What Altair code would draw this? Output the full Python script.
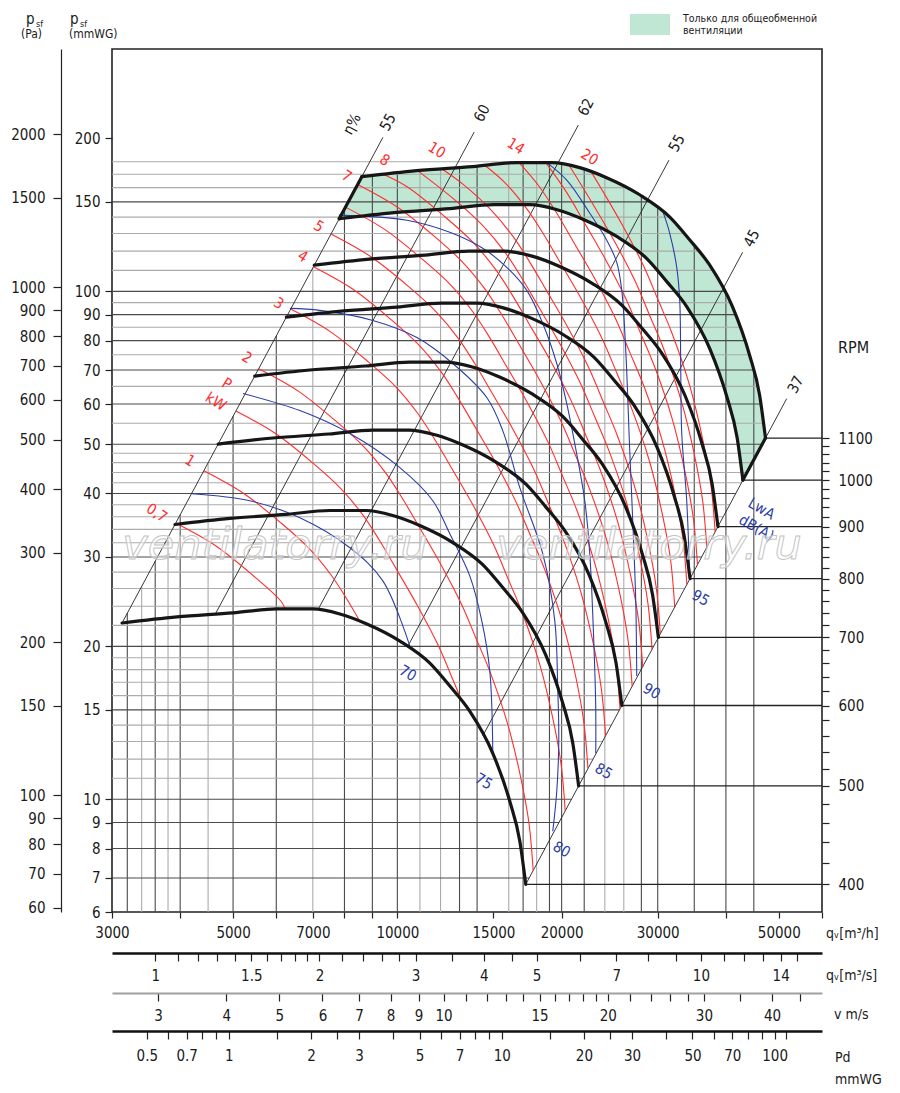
import json
import altair as alt
import pandas as pd

FONT = "Liberation Sans Narrow, DejaVu Sans Condensed, Roboto Condensed, Roboto, sans-serif"

# ---------------- fan curves: q [m3/h], p [mmWG] ----------------
RPM = [400, 500, 600, 700, 800, 900, 1000, 1100]
FAN_Q = {
    400: [3130, 3946, 4998, 6016, 7002, 7847, 8794, 10110, 11470, 12480, 13570, 14960, 16070, 16770, 17190],
    500: [3913, 4933, 6248, 7520, 8753, 9809, 10993, 12638, 14338, 15600, 16963, 18700, 20088, 20963, 21488],
    600: [4695, 5919, 7497, 9024, 10503, 11771, 13191, 15165, 17205, 18720, 20355, 22440, 24105, 25155, 25785],
    700: [5478, 6906, 8747, 10528, 12254, 13732, 15390, 17693, 20073, 21840, 23748, 26180, 28123, 29348, 30083],
    800: [6260, 7892, 9996, 12032, 14004, 15694, 17588, 20220, 22940, 24960, 27140, 29920, 32140, 33540, 34380],
    900: [7043, 8879, 11246, 13536, 15755, 17656, 19787, 22748, 25808, 28080, 30533, 33660, 36158, 37733, 38678],
    1000: [7825, 9865, 12495, 15040, 17505, 19618, 21985, 25275, 28675, 31200, 33925, 37400, 40175, 41925, 42975],
    1100: [8608, 10852, 13745, 16544, 19256, 21579, 24184, 27803, 31543, 34320, 37318, 41140, 44193, 46118, 47273],
}
FAN_P = {
    400: [22.24, 22.86, 23.28, 23.70, 23.70, 23.17, 22.14, 20.49, 18.54, 16.71, 14.92, 12.32, 9.91, 8.26, 6.80],
    500: [34.75, 35.72, 36.38, 37.03, 37.03, 36.20, 34.59, 32.02, 28.97, 26.11, 23.31, 19.25, 15.48, 12.91, 10.63],
    600: [50.04, 51.44, 52.38, 53.33, 53.33, 52.13, 49.82, 46.10, 41.72, 37.60, 33.57, 27.72, 22.30, 18.59, 15.30],
    700: [68.11, 70.01, 71.30, 72.58, 72.58, 70.96, 67.80, 62.75, 56.78, 51.17, 45.69, 37.73, 30.35, 25.30, 20.83],
    800: [88.96, 91.44, 93.12, 94.80, 94.80, 92.68, 88.56, 81.96, 74.16, 66.84, 59.68, 49.28, 39.64, 33.04, 27.20],
    900: [112.59, 115.73, 117.86, 119.98, 119.98, 117.30, 112.08, 103.73, 93.86, 84.59, 75.53, 62.37, 50.17, 41.82, 34.43],
    1000: [139.0, 142.9, 145.5, 148.1, 148.1, 144.8, 138.4, 128.1, 115.9, 104.4, 93.25, 77.0, 61.94, 51.63, 42.5],
    1100: [168.19, 172.88, 176.06, 179.23, 179.23, 175.22, 167.43, 154.96, 140.21, 126.37, 112.83, 93.17, 74.94, 62.47, 51.43],
}

# ---------------- shaft power lines P [kW] ----------------
RED_Q = {
    "0.7": [3925, 4638, 5440, 6122, 6223],
    "1": [4420, 5223, 6126, 6897, 7561, 8100, 8538],
    "1.5": [5060, 5979, 7013, 7894, 8657, 9272, 9958, 10920, 11910, 12650, 13125],
    "2": [5570, 6584, 7718, 8686, 9526, 10206, 10960, 12021, 13109, 13923, 14803, 15949, 16865, 17436, 17737],
    "3": [6376, 7534, 8834, 9948, 10905, 11681, 12545, 13760, 15006, 15937, 16948, 18257, 19306, 19958, 20304],
    "4": [7016, 8291, 9723, 10947, 12002, 12857, 13810, 15144, 16512, 17543, 18655, 20097, 21253, 21965, 22350],
    "5": [7559, 8931, 10477, 11791, 12931, 13852, 14876, 16313, 17790, 18897, 20093, 21646, 22892, 23659, 24075],
    "6": [8033, 9492, 11132, 12533, 13740, 14719, 15808, 17334, 18905, 20083, 21355, 23007, 24330, 25147, 25587],
    "7": [8457, 9993, 11721, 13192, 14465, 15496, 16641, 18249, 19898, 21139, 22479, 24217, 25611, 26470, 26933],
    "8": [9422, 10451, 12252, 13792, 15124, 16199, 17397, 19084, 20807, 22098, 23498, 25315, 26773, 27676, 28154],
    "9": [10890, 12745, 14341, 15728, 16851, 18096, 19843, 21640, 22989, 24444, 26334, 27843, 28782, 29287],
    "10": [12056, 13200, 14857, 16289, 17449, 18741, 20557, 22416, 23807, 25315, 27274, 28841, 29814, 30328],
    "12": [14478, 15787, 17312, 18547, 19915, 21847, 23821, 25301, 26903, 28982, 30650, 31685, 32231],
    "14": [16720, 18223, 19523, 20963, 22995, 25076, 26631, 28317, 30508, 32262, 33350, 33928],
    "16": [18708, 20412, 21924, 24040, 26216, 27847, 29612, 31902, 33729, 34868, 35478],
    "18": [20669, 22797, 25007, 27266, 28959, 30794, 33175, 35084, 36268, 36897],
    "20": [22654, 23614, 25900, 28241, 30001, 31899, 34366, 36337, 37563, 38219],
}
RED_P = {
    "0.7": [34.98, 31.59, 27.58, 24.54, 23.75],
    "1": [44.35, 40.05, 34.97, 31.15, 27.64, 24.69, 22.41],
    "1.5": [58.12, 52.49, 45.84, 40.81, 36.23, 32.35, 28.39, 23.91, 19.99, 17.17, 15.61],
    "2": [70.42, 63.63, 55.51, 49.41, 43.86, 39.19, 34.39, 28.97, 24.22, 20.80, 17.76, 14.00, 10.92, 8.93, 7.24],
    "3": [92.28, 83.33, 72.74, 64.81, 57.48, 51.34, 45.06, 37.96, 31.73, 27.25, 23.27, 18.35, 14.30, 11.70, 9.49],
    "4": [111.75, 100.93, 88.10, 78.48, 69.64, 62.20, 54.60, 45.98, 38.42, 33.02, 28.20, 22.23, 17.33, 14.17, 11.50],
    "5": [129.70, 117.11, 102.29, 91.05, 80.82, 72.19, 63.35, 53.35, 44.60, 38.31, 32.71, 25.79, 20.11, 16.44, 13.34],
    "6": [146.49, 132.28, 115.48, 102.86, 91.26, 81.53, 71.54, 60.23, 50.37, 43.27, 36.95, 29.14, 22.72, 18.57, 15.07],
    "7": [162.37, 146.62, 128.04, 113.96, 101.15, 90.35, 79.28, 66.76, 55.80, 47.94, 40.94, 32.28, 25.17, 20.58, 16.69],
    "8": [170.0, 160.34, 139.90, 124.56, 110.57, 98.75, 86.65, 73.01, 61.01, 52.39, 44.74, 35.28, 27.51, 22.50, 18.24],
    "9": [172.9, 151.38, 134.68, 119.58, 106.85, 93.75, 78.93, 65.99, 56.70, 48.41, 38.18, 29.75, 24.33, 19.74],
    "10": [174.3, 162.39, 144.54, 128.26, 114.56, 100.55, 84.71, 70.81, 60.81, 51.92, 40.95, 31.92, 26.11, 21.17],
    "12": [176.9, 163.21, 144.87, 129.44, 113.54, 95.68, 79.96, 68.68, 58.64, 46.24, 36.05, 29.49, 23.91],
    "14": [179.2, 160.52, 143.41, 125.81, 106.00, 88.61, 76.09, 64.97, 51.23, 39.94, 32.67, 26.49],
    "16": [179.2, 156.79, 137.61, 115.85, 96.85, 83.19, 71.05, 56.03, 43.66, 35.71, 28.97],
    "18": [176.7, 148.78, 125.36, 104.77, 89.97, 76.83, 60.59, 47.24, 38.63, 31.33],
    "20": [171.9, 159.65, 134.47, 112.40, 96.56, 82.44, 65.01, 50.67, 41.44, 33.61],
}
RED_LABELS = ["0,7", "1", "P", "kW", "2", "3", "4", "5", "7", "8", "10", "14", "20"]
RED_LABEL_Q = [3626, 4169, 4871, 4651, 5302, 6067, 6713, 7181, 8081, 9487, 11812, 16485, 22521]
RED_LABEL_P = [36.65, 46.42, 65.84, 60.68, 74.09, 94.70, 117.2, 134.3, 168.6, 181.3, 189.7, 193.2, 183.8]

# ---------------- sound power lines LwA [dB(A)] ----------------
BLUE_Q = {
    "70": [4204, 5367, 6629, 8187, 9406, 10542],
    "75": [5213, 6629, 8187, 10107, 11614, 12477, 13574, 14280, 14771, 14959],
    "80": [6355, 7212, 9018, 10859, 12637, 14585, 15600, 16765, 18472, 19432, 19676, 19762, 19594, 19267],
    "85": [7814, 10410, 12477, 14339, 15866, 17267, 18472, 19594, 20437, 21141, 22051, 22523, 22905, 23096, 23096],
    "90": [18785, 20437, 22523, 24195, 25237, 25777, 26215, 26659, 26999, 27343, 27457],
    "95": [30642, 31561, 32504, 32920, 33058, 33199, 33904, 34336],
}
BLUE_P = {
    "70": [39.96, 38.71, 35.83, 31.27, 26.92, 20.03],
    "75": [62.93, 58.25, 52.48, 44.97, 38.71, 33.32, 27.54, 22.45, 17.89, 12.32],
    "80": [92.57, 91.73, 87.66, 81.15, 72.11, 61.80, 53.19, 41.07, 30.42, 22.45, 16.56, 13.01, 10.37, 8.65],
    "85": [141.25, 138.04, 130.68, 121.56, 111.51, 100.46, 86.47, 72.11, 60.14, 50.15, 38.71, 30.42, 20.49, 15.12, 12.32],
    "90": [179.2, 165.56, 142.52, 126.06, 114.08, 100.46, 76.52, 48.57, 35.35, 24.58, 17.48],
    "95": [143.83, 130.12, 111.51, 95.99, 70.80, 52.48, 38.71, 27.29],
}
BLUE_LABELS = ["70", "75", "80", "85", "90", "95", "LwA", "dB(A)"]
BLUE_LABEL_Q = [10453, 14404, 20012, 23890, 29250, 35970, 46509, 45540]
BLUE_LABEL_P = [17.72, 10.85, 7.97, 11.36, 16.33, 24.91, 37.33, 34.24]

# ---------------- efficiency lines eta [%] ----------------
EFF_NAME = ["55a", "60", "62", "55b", "45", "37"]
EFF_Q0 = [3130, 4633, 7152, 10450, 14350, 17190]
EFF_P0 = [22.24, 23.1, 23.6, 20.0, 13.35, 6.80]
EFF_Q1 = [9410, 13830, 21460, 31460, 42930, 51700]
EFF_P1 = [201.0, 205.9, 212.5, 181.3, 119.4, 61.5]
EFF_LABELS = ["η%", "55", "60", "62", "55", "45", "37"]
EFF_LABEL_Q = [8257, 9609, 14280, 22144, 32504, 44598, 53673]
EFF_LABEL_P = [213.5, 215.4, 224.4, 230.6, 195.8, 127.2, 65.54]

# ---------------- grid ----------------
HGRID_P = [7, 8, 9, 10, 11, 12, 13, 14, 15, 16, 17, 18, 19, 20, 22, 24, 26, 28, 30, 32, 34, 36, 38, 40,
           42, 44, 46, 48, 50, 55, 60, 65, 70, 75, 80, 85, 90, 95, 100, 110, 120, 130, 140, 150, 160, 170, 180]
HGRID_QEND = [17441, 18645, 19776, 20846, 21863, 22835, 23768, 24665, 25531, 26368, 27180, 27967, 28734,
              29480, 30919, 32294, 33613, 34882, 36106, 37290, 38438, 39552, 40636, 41692, 42721, 43726,
              44709, 45671, 46613, 46870, 46350, 45700, 44900, 44190, 43270, 42410, 41620, 40750, 39690,
              37800, 35660, 33540, 31600, 28960, 26240, 23270, 19500]
HGRID_MAJOR = [7, 8, 9, 10, 15, 20, 30, 40, 50, 60, 70, 80, 90, 100, 150]
VGRID_Q = [3200, 3400, 3600, 3800, 4000, 4500, 5000, 6000, 7000, 8000, 9000, 10000, 11000, 12000, 13000,
           14000, 16000, 17000, 18000, 19000, 20000, 22000, 24000, 26000, 28000, 30000, 35000, 40000, 45000]
VGRID_PTOP = [23.25, 26.24, 29.42, 32.78, 36.32, 45.97, 56.75, 81.72, 111.2, 145.3, 169.1, 171.2, 173.1,
              174.2, 175.3, 176.4, 178.6, 179.2, 179.2, 179.2, 177.9, 173.9, 168.0, 160.8, 154.1, 145.9,
              123.1, 98.5, 69.4]
VGRID_LIGHT = [3400, 3800, 4500, 7000, 11000, 12000, 16000, 18000, 24000, 26000]

# ---------------- axes ----------------
XTICKS = [3000, 4000, 5000, 6000, 7000, 8000, 9000, 10000, 15000, 20000, 30000, 40000, 50000, 60000]
XLABELS = [3000, 5000, 7000, 10000, 15000, 20000, 30000, 50000]
YTICKS_MM = [6, 7, 8, 9, 10, 15, 20, 30, 40, 50, 60, 70, 80, 90, 100, 150, 200]
YTICKS_PA = [60, 70, 80, 90, 100, 150, 200, 300, 400, 500, 600, 700, 800, 900, 1000, 1500, 2000]
RPM_TICKS = list(range(400, 1101, 20))
QS_TICKS = [1, 1.1, 1.2, 1.3, 1.4, 1.5, 1.6, 1.7, 1.8, 1.9, 2, 2.2, 2.4, 2.6, 2.8, 3, 3.5, 4, 4.5, 5,
            6, 7, 8, 9, 10, 11, 12, 13, 14, 15]
QS_LABELS = [1, 1.5, 2, 3, 4, 5, 7, 10, 14]
V_TICKS = [3, 4, 5, 6, 7, 8, 9, 10, 11, 12, 13, 14, 15, 16, 17, 18, 19, 20, 22, 24, 26, 28, 30, 35, 40, 45]
V_LABELS = [3, 4, 5, 6, 7, 8, 9, 10, 15, 20, 30, 40]
PD_TICKS = [0.5, 0.6, 0.7, 0.8, 0.9, 1, 1.5, 2, 2.5, 3, 4, 5, 6, 7, 8, 9, 10, 15, 20, 25, 30, 40, 50,
            60, 70, 80, 90, 100, 110]
PD_LABELS = [0.5, 0.7, 1, 2, 3, 5, 7, 10, 20, 30, 50, 70, 100]

GREEN = "#bfe7d3"
RED = "#ff2d2d"
BLUE = "#2b3ea6"


def lines_df(qd, pdct, prefix):
    rows = []
    for k in qd:
        for i, (q, p) in enumerate(zip(qd[k], pdct[k])):
            rows.append({"s": f"{prefix}{k}", "i": i, "q": q, "p": p})
    return pd.DataFrame(rows)


fan_df = lines_df(FAN_Q, FAN_P, "n")
red_df = lines_df(RED_Q, RED_P, "P")
blue_df = lines_df(BLUE_Q, BLUE_P, "L")

eff_rows = []
for n, q0, p0, q1, p1 in zip(EFF_NAME, EFF_Q0, EFF_P0, EFF_Q1, EFF_P1):
    eff_rows.append({"s": n, "i": 0, "q": q0, "p": p0})
    eff_rows.append({"s": n, "i": 1, "q": q1, "p": p1})
eff_df = pd.DataFrame(eff_rows)

poly_q = FAN_Q[1100] + FAN_Q[1000][::-1]
poly_p = FAN_P[1100] + FAN_P[1000][::-1]
green_df = pd.DataFrame({"i": list(range(len(poly_q))), "q": poly_q, "p": poly_p})

thick_df = pd.DataFrame([
    {"s": "left", "i": 0, "q": FAN_Q[1000][0], "p": FAN_P[1000][0]},
    {"s": "left", "i": 1, "q": FAN_Q[1100][0], "p": FAN_P[1100][0]},
    {"s": "right", "i": 0, "q": FAN_Q[1000][-1], "p": FAN_P[1000][-1]},
    {"s": "right", "i": 1, "q": FAN_Q[1100][-1], "p": FAN_P[1100][-1]},
])

hgrid_df = pd.DataFrame({
    "p": HGRID_P, "q0": [3000] * len(HGRID_P), "q1": HGRID_QEND,
    "cls": ["major" if v in HGRID_MAJOR else "minor" for v in HGRID_P]})
vgrid_df = pd.DataFrame({
    "q": VGRID_Q, "p0": [6] * len(VGRID_Q), "p1": VGRID_PTOP,
    "cls": ["light" if v in VGRID_LIGHT else "dark" for v in VGRID_Q]})
rpm_df = pd.DataFrame({
    "rpm": RPM, "q0": [FAN_Q[n][-1] for n in RPM], "q1": [60000] * len(RPM),
    "p": [FAN_P[n][-1] for n in RPM]})

red_lab_df = pd.DataFrame({"t": RED_LABELS, "q": RED_LABEL_Q, "p": RED_LABEL_P})
blue_lab_df = pd.DataFrame({"t": BLUE_LABELS, "q": BLUE_LABEL_Q, "p": BLUE_LABEL_P})
eff_lab_df = pd.DataFrame({"t": EFF_LABELS, "q": EFF_LABEL_Q, "p": EFF_LABEL_P})


def lab_expr(vals, fmt):
    return f"indexof({json.dumps(vals)}, datum.value) >= 0 ? format(datum.value, '{fmt}') : ''"


AX_COMMON = dict(title=None, grid=False, labelFlush=False, labelOverlap=False, labelFont=FONT,
                 labelFontSize=15, labelColor="#1a1a1a", tickColor="#222", tickWidth=1.2)

X_AXIS = alt.Axis(orient="bottom", values=XTICKS, labelExpr=lab_expr(XLABELS, "d"), tickSize=6,
                  labelPadding=7, domain=False, **AX_COMMON)
Y_AXIS = alt.Axis(orient="left", values=YTICKS_MM, format="d", tickSize=7, labelPadding=5,
                  domain=False, **AX_COMMON)

XS = alt.Scale(type="log", domain=[3000, 60000], nice=False)
YS = alt.Scale(type="log", domain=[6, 300], nice=False)


def ex(f="q"):
    return alt.X(f"{f}:Q", scale=XS, axis=X_AXIS)


def ey(f="p"):
    return alt.Y(f"{f}:Q", scale=YS, axis=Y_AXIS)


green = alt.Chart(green_df).mark_line(fill=GREEN, stroke=GREEN, strokeWidth=0.5).encode(
    x=ex(), y=ey(), order="i:Q")

hgrid = alt.Chart(hgrid_df).mark_rule().encode(
    x=ex("q0"), x2="q1:Q", y=ey("p"),
    color=alt.Color("cls:N", scale=alt.Scale(domain=["major", "minor"], range=["#262626", "#8a8a8a"]), legend=None),
    strokeWidth=alt.StrokeWidth("cls:N", scale=alt.Scale(domain=["major", "minor"], range=[1.5, 1.0]), legend=None))

vgrid = alt.Chart(vgrid_df).mark_rule().encode(
    x=ex("q"), y=ey("p0"), y2="p1:Q",
    color=alt.Color("cls:N", scale=alt.Scale(domain=["dark", "light"], range=["#4a4a4a", "#ababab"]), legend=None),
    strokeWidth=alt.StrokeWidth("cls:N", scale=alt.Scale(domain=["dark", "light"], range=[1.1, 1.1]), legend=None))

rpm_rules = alt.Chart(rpm_df).mark_rule(color="#222", strokeWidth=1.3).encode(
    x=ex("q0"), x2="q1:Q", y=ey("p"))

eff = alt.Chart(eff_df).mark_line(color="#222", strokeWidth=0.9).encode(
    x=ex(), y=ey(), detail="s:N", order="i:Q")

red = alt.Chart(red_df).mark_line(color=RED, strokeWidth=1.1, interpolate="catmull-rom").encode(
    x=ex(), y=ey(), detail="s:N", order="i:Q")

blue = alt.Chart(blue_df).mark_line(color=BLUE, strokeWidth=1.1, interpolate="catmull-rom").encode(
    x=ex(), y=ey(), detail="s:N", order="i:Q")

fan = alt.Chart(fan_df).mark_line(color="#161616", strokeWidth=3.2, interpolate="monotone",
                                  strokeCap="round").encode(
    x=ex(), y=ey(), detail="s:N", order="i:Q")

thick = alt.Chart(thick_df).mark_line(color="#161616", strokeWidth=3.2, strokeCap="round").encode(
    x=ex(), y=ey(), detail="s:N", order="i:Q")

red_lab = alt.Chart(red_lab_df).mark_text(color=RED, fontSize=15, angle=32, font=FONT).encode(
    x=ex(), y=ey(), text="t:N")
blue_lab = alt.Chart(blue_lab_df).mark_text(color=BLUE, fontSize=15, angle=30, font=FONT).encode(
    x=ex(), y=ey(), text="t:N")
eff_lab = alt.Chart(eff_lab_df).mark_text(color="#1a1a1a", fontSize=15, angle=298, font=FONT).encode(
    x=ex(), y=ey(), text="t:N")


def txt(t, x, y, size=14, align="left", color="#1a1a1a", **kw):
    return alt.Chart(pd.DataFrame({"t": [t]})).mark_text(
        align=align, baseline="alphabetic", fontSize=size, color=color, font=FONT, **kw).encode(
        x=alt.value(x), y=alt.value(y), text="t:N")


watermark = [
    alt.Chart(pd.DataFrame({"t": ["ventilatorry.ru"]})).mark_text(
        font="DejaVu Sans, Liberation Sans, sans-serif", fontStyle="italic", fontSize=43,
        fill="white", fillOpacity=0.45, stroke="#c4c4c4", strokeWidth=1, baseline="middle").encode(
        x=alt.value(xc), y=alt.value(497), text="t:N")
    for xc in (163, 537)
]

legend_box = alt.Chart(pd.DataFrame({"a": [0]})).mark_rect(color=GREEN).encode(
    x=alt.value(518), x2=alt.value(558), y=alt.value(-35), y2=alt.value(-14))

texts = [
    txt("p", -86, -25, 15), txt("sf", -76, -22, 9), txt("(Pa)", -91, -11, 12),
    txt("p", -42, -25, 15), txt("sf", -32, -22, 9), txt("(mmWG)", -43, -11, 12),
    txt("Только для общеобменной", 571, -27, 10.5), txt("вентиляции", 571, -15, 10.5),
    txt("RPM", 726, 304, 16),
    txt("qᵥ[m³/h]", 714, 889, 14), txt("qᵥ[m³/s]", 714, 931, 14),
    txt("v m/s", 722, 970, 14), txt("Pd", 723, 1013, 14), txt("mmWG", 723, 1035, 14),
]

main = alt.layer(green, vgrid, hgrid, rpm_rules, eff, red, blue, fan, thick,
                 red_lab, blue_lab, eff_lab, *watermark, legend_box, *texts)

# secondary axes (same pixel range, other units)
one = pd.DataFrame({"v": [1.0]})
pa_layer = alt.Chart(pd.DataFrame({"v": [100.0]})).mark_point(opacity=0).encode(
    y=alt.Y("v:Q", scale=alt.Scale(type="log", domain=[58.84, 2942.0], nice=False),
            axis=alt.Axis(orient="left", offset=51, values=YTICKS_PA, format="d", tickSize=8,
                          labelPadding=8, domain=True, domainColor="#222", domainWidth=1.2, **AX_COMMON)),
    x=alt.value(0))
rpm_layer = alt.Chart(pd.DataFrame({"v": [500.0]})).mark_point(opacity=0).encode(
    y=alt.Y("v:Q", scale=alt.Scale(type="log", domain=[375.74, 2656.9], nice=False),
            axis=alt.Axis(orient="right", values=RPM_TICKS, format="d",
                          labelExpr="datum.value % 100 === 0 ? datum.label : ''", tickSize=7,
                          labelPadding=9, domain=False, **AX_COMMON)),
    x=alt.value(0))
qs_layer = alt.Chart(one).mark_point(opacity=0).encode(
    x=alt.X("v:Q", scale=alt.Scale(type="log", domain=[0.83333, 16.6667], nice=False),
            axis=alt.Axis(orient="bottom", offset=41, values=QS_TICKS, labelExpr=lab_expr(QS_LABELS, "~g"),
                          tickSize=8, labelPadding=7, domain=True, domainColor="#111", domainWidth=2.5,
                          **AX_COMMON)),
    y=alt.value(0))
v_layer = alt.Chart(pd.DataFrame({"v": [5.0]})).mark_point(opacity=0).encode(
    x=alt.X("v:Q", scale=alt.Scale(type="log", domain=[2.4691, 49.383], nice=False),
            axis=alt.Axis(orient="bottom", offset=81, values=V_TICKS, labelExpr=lab_expr(V_LABELS, "~g"),
                          tickSize=8, labelPadding=7, domain=True, domainColor="#a0a0a0", domainWidth=2,
                          **AX_COMMON)),
    y=alt.value(0))
pd_layer = alt.Chart(one).mark_point(opacity=0).encode(
    x=alt.X("v:Q", scale=alt.Scale(type="log", domain=[0.37287, 149.14], nice=False),
            axis=alt.Axis(orient="bottom", offset=119, values=PD_TICKS, labelExpr=lab_expr(PD_LABELS, "~g"),
                          tickSize=8, labelPadding=9, domain=True, domainColor="#111", domainWidth=2.5,
                          **AX_COMMON)),
    y=alt.value(0))

chart = alt.layer(main, pa_layer, rpm_layer, qs_layer, v_layer, pd_layer).resolve_scale(
    x="independent", y="independent").resolve_axis(x="independent", y="independent").properties(
    width=710, height=863, padding={"left": 2, "top": 4, "right": 0, "bottom": 0},
    background="white").configure(font=FONT).configure_view(stroke="#222", strokeWidth=1.6)

chart.save("out.html", embed_options={"renderer": "svg", "actions": False})
